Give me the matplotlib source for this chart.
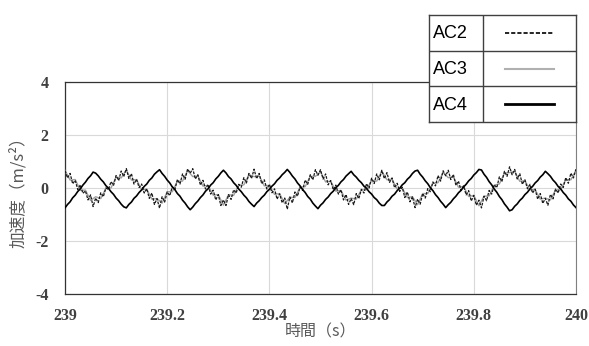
import numpy as np
import matplotlib
matplotlib.use("Agg")
import matplotlib.pyplot as plt
from matplotlib.lines import Line2D

plt.rcParams['font.family'] = ['Noto Sans CJK JP', 'DejaVu Sans']
plt.rcParams['axes.unicode_minus'] = False

# sampled accelerations, 239 s .. 240 s
ac4 = [-0.75, -0.62, -0.52, -0.37, -0.27, -0.13, -0.03, 0.11, 0.22, 0.36, 0.46, 0.60,
       0.56, 0.46, 0.33, 0.23, 0.09, -0.01, -0.14, -0.24, -0.38, -0.48, -0.61, -0.71,
       -0.75, -0.62, -0.53, -0.39, -0.30, -0.17, -0.07, 0.06, 0.15, 0.29, 0.38, 0.52, 0.61,
       0.69, 0.55, 0.44, 0.30, 0.19, 0.04, -0.06, -0.21, -0.31, -0.46, -0.57, -0.71,
       -0.82, -0.72, -0.59, -0.49, -0.36, -0.26, -0.12, -0.03, 0.11, 0.20, 0.34, 0.44, 0.57,
       0.67, 0.57, 0.43, 0.34, 0.20, 0.10, -0.04, -0.14, -0.27, -0.37, -0.51, -0.61,
       -0.70, -0.57, -0.48, -0.36, -0.27, -0.14, -0.05, 0.07, 0.16, 0.29, 0.38, 0.50, 0.59,
       0.70, 0.59, 0.45, 0.34, 0.19, 0.08, -0.06, -0.17, -0.32, -0.42, -0.57, -0.68,
       -0.78, -0.65, -0.56, -0.43, -0.34, -0.21, -0.12, 0.01, 0.10, 0.23, 0.32, 0.45, 0.54,
       0.63, 0.50, 0.41, 0.29, 0.20, 0.07, -0.01, -0.14, -0.23, -0.36, -0.44, -0.57, -0.66,
       -0.66, -0.53, -0.44, -0.31, -0.23, -0.10, -0.01, 0.12, 0.20, 0.33, 0.42, 0.55, 0.64,
       0.67, 0.52, 0.41, 0.27, 0.16, 0.01, -0.10, -0.25, -0.36, -0.50, -0.61, -0.74,
       -0.63, -0.54, -0.41, -0.31, -0.18, -0.09, 0.04, 0.14, 0.27, 0.36, 0.49, 0.58,
       0.70, 0.68, 0.52, 0.40, 0.24, 0.12, -0.04, -0.16, -0.32, -0.44, -0.60, -0.72,
       -0.86, -0.82, -0.69, -0.60, -0.47, -0.38, -0.25, -0.16, -0.03, 0.06, 0.19, 0.28,
       0.41, 0.50, 0.63, 0.54, 0.44, 0.30, 0.20, 0.06, -0.03, -0.17, -0.27, -0.41, -0.50,
       -0.64, -0.74]

ac2 = [0.66, 0.38, 0.55, 0.16, 0.29, -0.06, 0.12, -0.20, -0.11, -0.45, -0.26, -0.70,
       -0.38, -0.55, -0.18, -0.33, 0.00, -0.06, 0.24, 0.10, 0.47, 0.28, 0.64, 0.43,
       0.73, 0.36, 0.54, 0.15, 0.33, 0.02, 0.15, -0.19, -0.03, -0.39, -0.19, -0.62, -0.40,
       -0.76, -0.33, -0.53, -0.15, -0.29, 0.05, -0.06, 0.32, 0.15, 0.53, 0.33, 0.72,
       0.56, 0.73, 0.34, 0.50, 0.11, 0.29, -0.04, 0.13, -0.23, -0.08, -0.45, -0.25, -0.66,
       -0.45, -0.66, -0.25, -0.43, -0.07, -0.19, 0.14, 0.03, 0.39, 0.19, 0.55, 0.36,
       0.71, 0.35, 0.55, 0.16, 0.31, -0.04, 0.14, -0.18, -0.03, -0.42, -0.22, -0.56, -0.38,
       -0.80, -0.34, -0.56, -0.15, -0.31, 0.04, -0.09, 0.30, 0.14, 0.50, 0.31, 0.69,
       0.48, 0.69, 0.34, 0.53, 0.12, 0.28, -0.07, 0.11, -0.23, -0.07, -0.45, -0.25, -0.62,
       -0.40, -0.63, -0.21, -0.40, -0.05, -0.19, 0.16, 0.00, 0.37, 0.17, 0.53, 0.31, 0.67,
       0.35, 0.58, 0.21, 0.38, 0.01, 0.18, -0.13, 0.03, -0.36, -0.15, -0.52, -0.33, -0.74,
       -0.42, -0.61, -0.21, -0.38, -0.02, -0.14, 0.23, 0.08, 0.47, 0.26, 0.65, 0.46,
       0.67, 0.32, 0.51, 0.10, 0.26, -0.09, 0.08, -0.26, -0.10, -0.49, -0.28, -0.65, -0.46,
       -0.75, -0.31, -0.48, -0.09, -0.23, 0.12, 0.01, 0.42, 0.24, 0.63, 0.44, 0.80,
       0.50, 0.70, 0.34, 0.54, 0.14, 0.31, -0.03, 0.14, -0.19, -0.04, -0.42, -0.21, -0.58,
       -0.39, -0.65, -0.24, -0.41, -0.04, -0.19, 0.15, 0.02, 0.39, 0.18, 0.56, 0.38, 0.71]

ac3 = [0.66, 0.30, 0.32, -0.09, -0.08, -0.47, -0.33, -0.40, -0.01, 0.00, 0.41, 0.38,
       0.68, 0.30, 0.32, -0.07, -0.04, -0.42, -0.40, -0.57, -0.14, -0.14, 0.26, 0.26, 0.66,
       0.43, 0.46, 0.07, 0.10, -0.27, -0.25, -0.65, -0.25, -0.28, 0.11, 0.12, 0.50,
       0.43, 0.46, 0.08, 0.10, -0.24, -0.21, -0.59, -0.35, -0.36, 0.03, 0.05, 0.44, 0.44,
       0.61, 0.23, 0.26, -0.12, -0.09, -0.46, -0.38, -0.42, -0.07, -0.07, 0.29, 0.26, 0.63,
       0.31, 0.33, -0.04, 0.00, -0.36, -0.33, -0.63, -0.21, -0.21, 0.18, 0.20, 0.59,
       0.39, 0.42, 0.03, 0.06, -0.32, -0.28, -0.67, -0.31, -0.30, 0.11, 0.15, 0.56, 0.58,
       0.63, 0.25, 0.28, -0.07, -0.06, -0.42, -0.38, -0.45, -0.07, -0.06, 0.32, 0.31, 0.67]

t_fine = np.linspace(239, 240, len(ac2))
t_coarse = np.linspace(239, 240, len(ac3))

xticks = [239, 239.2, 239.4, 239.6, 239.8, 240]
xticklabels = ['239', '239.2', '239.4', '239.6', '239.8', '240']
yticks = [-4, -2, 0, 2, 4]

series_names = ['AC2', 'AC3', 'AC4']

fig = plt.figure(figsize=(5.89, 3.46), dpi=100)
W, H = 589, 346
ax = fig.add_axes([65 / W, 1 - 294 / H, (576 - 65) / W, (294 - 82) / H])

ax.plot(t_coarse, ac3, color='#a0a0a0', lw=1.0, zorder=3)
ax.plot(t_fine, ac2, color='#1a1a1a', lw=0.9, dashes=(2.2, 1.0), zorder=4)
ax.plot(t_fine, ac4, color='black', lw=1.2, zorder=5)

ax.set_xlim(239, 240)
ax.set_ylim(-4, 4)
ax.set_xticks(xticks)
ax.set_xticklabels(xticklabels)
ax.set_yticks(yticks)
ax.grid(True, color='#d9d9d9', lw=0.8)
ax.set_axisbelow(True)
ax.tick_params(length=0, colors='#404040')
ax.tick_params(axis='x', pad=10)
ax.tick_params(axis='y', pad=12)
for lab in ax.get_xticklabels() + ax.get_yticklabels():
    lab.set_family('Liberation Serif')
    lab.set_weight('bold')
    lab.set_fontsize(11.5)
for side in ['left', 'bottom', 'top']:
    ax.spines[side].set_color('#333333')
    ax.spines[side].set_linewidth(0.9)
ax.spines['right'].set_color('#808080')

ax.set_xlabel('時間（s）', fontsize=11.5, color='#595959', labelpad=0)
ax.set_ylabel('加速度（m/s²）', fontsize=12, color='#595959', labelpad=6)

# boxed legend table in the top right corner
lg = fig.add_axes([429 / W, 1 - 122 / H, (576 - 429) / W, (122 - 15) / H])
lg.set_xlim(0, 1)
lg.set_ylim(0, 3)
lg.set_xticks([])
lg.set_yticks([])
for s in lg.spines.values():
    s.set_color('#404040')
    s.set_linewidth(1.0)
lg.axhline(1, color='#404040', lw=1.0)
lg.axhline(2, color='#404040', lw=1.0)
lg.axvline(0.37, color='#404040', lw=1.0)
styles = [dict(color='black', lw=1.2, dashes=(2.5, 1.2)),
          dict(color='#b0b0b0', lw=1.5),
          dict(color='black', lw=2.0)]
for k, name in enumerate(series_names):
    yc = 2.5 - k
    lg.text(0.03, yc - 0.03, name, fontsize=13, va='center', ha='left',
            family=['Liberation Sans', 'DejaVu Sans'], color='black')
    lg.add_line(Line2D([0.52, 0.85], [yc, yc], **styles[k]))

fig.savefig('out.png', dpi=100)
